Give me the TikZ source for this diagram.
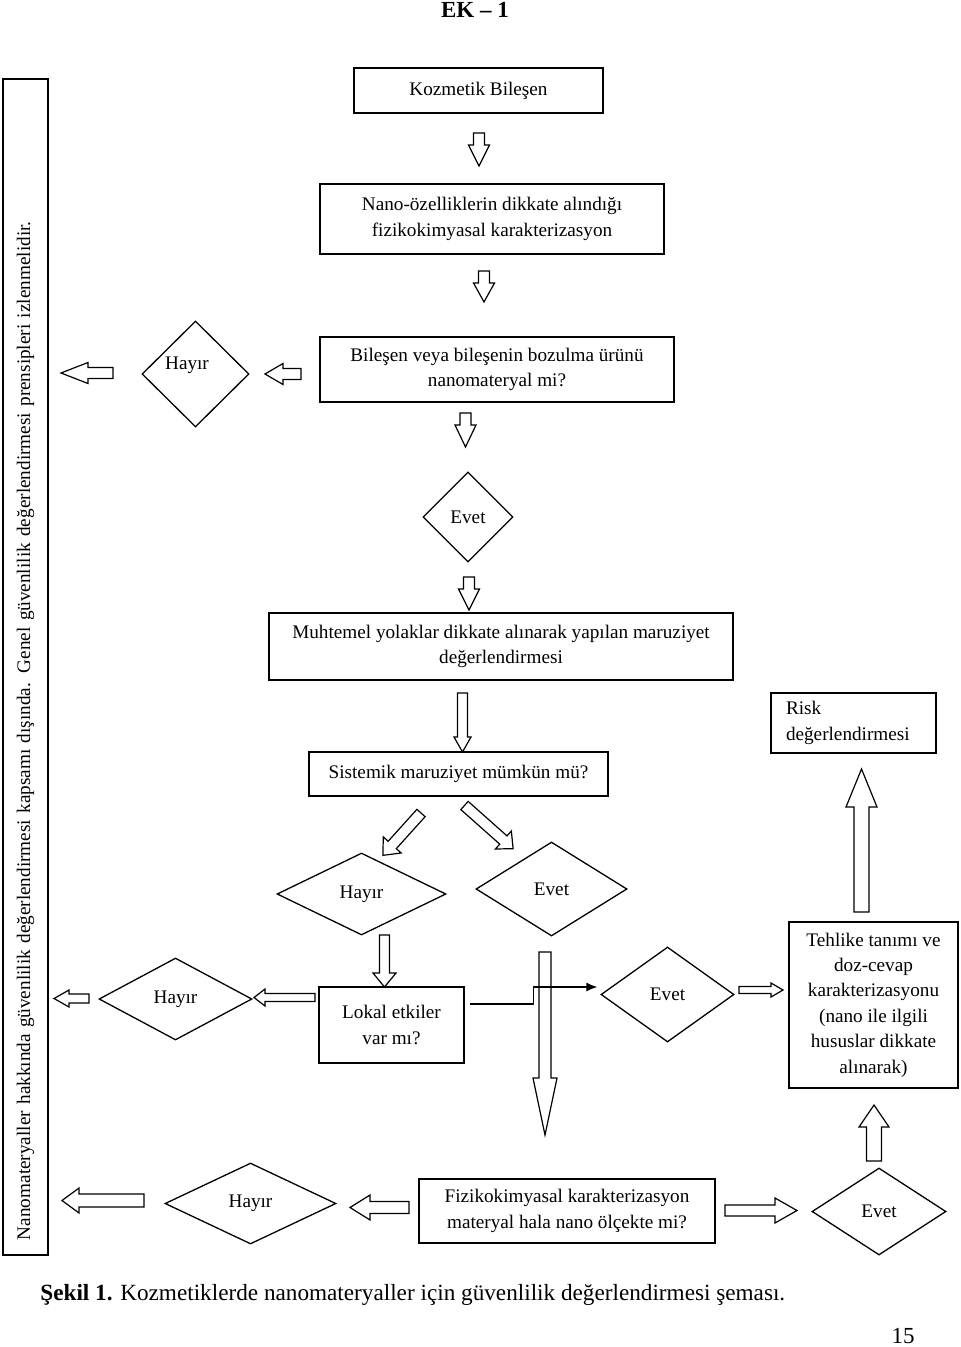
\documentclass[tikz,border=0pt]{standalone}
\usepackage{fontspec}
\setmainfont{Liberation Serif}
\usepackage{tikz}
\usetikzlibrary{arrows.meta, shapes.geometric}

\begin{document}
\begin{tikzpicture}[
		x=0.5pt, y=-0.5pt,
		txt/.style={font=\fontsize{9.6}{12.7}\selectfont},
		base/.style={
			rectangle, draw=black, line width=0.7pt,
			align=center, inner sep=0pt, txt
		},
		stepBox/.style={base},
		decision/.style={base, diamond, aspect=1, line width=0.65pt},
		arrowline/.style={draw=black, fill=white, line width=0.6pt},
		flow/.style={-{Latex[length=5.5pt, width=4.5pt]}, line width=0.6pt},
		pics/blockarrow/.style n args={4}{code={
			\draw[arrowline] (0,-#2/2) -- ({#1-#4},-#2/2) -- ({#1-#4},-#3/2) -- (#1,0)
				-- ({#1-#4},#3/2) -- ({#1-#4},#2/2) -- (0,#2/2) -- cycle;
		}}
		]
		\useasboundingbox (0,0) rectangle (960,1347);
		
		\node[anchor=base, inner sep=0pt, font=\fontsize{11.5}{14}\selectfont\bfseries] (title) at (475,18) {EK – 1};
		
		% left frame
		\node[base, rotate=90, minimum width=588pt, minimum height=22.5pt, text width=573pt, align=left] (sinir) at (25.5,667)
			{Nanomateryaller hakkında güvenlilik değerlendirmesi kapsamı dışında. Genel güvenlilik değerlendirmesi prensipleri izlenmelidir.};
		
		% main column
		\node[stepBox, minimum width=124.5pt, minimum height=22.5pt] (kozmetik) at (478.5,90.5) {Kozmetik Bileşen};
		\node[stepBox, minimum width=172pt, minimum height=35pt] (nano) at (492,219) {Nano-özelliklerin dikkate alındığı\\fizikokimyasal karakterizasyon};
		\node[stepBox, minimum width=177pt, minimum height=32.5pt] (bilesen) at (497,369.5) {Bileşen veya bileşenin bozulma ürünü\\nanomateryal mi?};
		\node[decision, minimum width=53.5pt, minimum height=53pt, label={[txt, shift={(-8.5,-9)}]center:Hayır}] (hayir1) at (195.5,374) {};
		\node[decision, minimum width=45pt, minimum height=45pt] (evet1) at (468,517) {Evet};
		\node[stepBox, minimum width=232pt, minimum height=33.5pt] (muhtemel) at (501,646.5) {Muhtemel yolaklar dikkate alınarak yapılan maruziyet\\değerlendirmesi};
		\node[stepBox, minimum width=149.5pt, minimum height=22pt] (sistemik) at (458.5,774) {Sistemik maruziyet mümkün mü?};
		\node[decision, minimum width=84.5pt, minimum height=41pt] (hayir2) at (361.5,894) {Hayır};
		\node[decision, minimum width=75.5pt, minimum height=47pt] (evet2) at (551.5,889) {Evet};
		\node[stepBox, minimum width=72.5pt, minimum height=38pt] (lokal) at (391.5,1025) {Lokal etkiler\\var mı?};
		\node[decision, minimum width=76.5pt, minimum height=41pt] (hayir3) at (175.5,999) {Hayır};
		\node[decision, minimum width=66.5pt, minimum height=47.5pt] (evet3) at (667.5,994.5) {Evet};
		\node[stepBox, minimum width=148pt, minimum height=32pt] (fiziko) at (567,1211) {Fizikokimyasal karakterizasyon\\materyal hala nano ölçekte mi?};
		\node[decision, minimum width=85.5pt, minimum height=40.5pt] (hayir4) at (250.5,1203.5) {Hayır};
		\node[decision, minimum width=67pt, minimum height=43.5pt] (evet4) at (879,1211.5) {Evet};
		
		% right column
		\node[stepBox, minimum width=82.5pt, minimum height=30pt, text width=67.5pt, align=left] (risk) at (853.5,723) {Risk\\değerlendirmesi};
		\node[stepBox, minimum width=84.5pt, minimum height=83pt] (tehlike) at (873.5,1005) {Tehlike tanımı ve\\doz-cevap\\karakterizasyonu\\(nano ile ilgili\\hususlar dikkate\\alınarak)};
		
		% block arrows
		\pic[rotate=-90] at (479,133) {blockarrow={33}{11}{21}{21}};
		\pic[rotate=-90] at (484,271) {blockarrow={31}{11}{21}{19}};
		\pic[rotate=-90] at (465.5,413) {blockarrow={34}{11}{21}{22}};
		\pic[rotate=-90] at (469,577) {blockarrow={33}{11}{21}{21}};
		\pic[rotate=-90] at (462.5,693) {blockarrow={59}{10}{17}{15}};
		\pic[rotate=180] at (301,374) {blockarrow={36}{11}{21}{18}};
		\pic[rotate=180] at (113,373) {blockarrow={52}{11}{21}{27}};
		\pic[rotate=-132] at (421,813) {blockarrow={57}{11}{24}{14}};
		\pic[rotate=-41.6] at (464.5,805.5) {blockarrow={65}{11}{24}{13}};
		\pic[rotate=-90] at (384.5,935) {blockarrow={52}{10}{23}{14}};
		\pic[rotate=180] at (315,997.5) {blockarrow={61}{8}{17}{11}};
		\pic[rotate=180] at (89,998.5) {blockarrow={35}{9}{17}{15}};
		\pic at (739,990) {blockarrow={44}{7}{14}{12}};
		\pic[rotate=90] at (861.5,912) {blockarrow={143}{15}{31}{38}};
		\pic[rotate=90] at (874,1161) {blockarrow={56}{15}{30}{22}};
		\pic at (725,1210.5) {blockarrow={72}{11}{25}{22}};
		\pic[rotate=180] at (409,1207.5) {blockarrow={59}{12}{25}{20}};
		\pic[rotate=180] at (144,1200.5) {blockarrow={82}{13}{25}{17}};
		\pic[rotate=-90] at (545,952) {blockarrow={183}{12}{24}{57}};
		
		\draw[flow] ([shift={(5,-21)}]lokal.east) -- ++(64,0) -- ++(0,-17) -- ([shift={(-3,-7.5)}]evet3.west);
		
		\node[anchor=base west, inner sep=0pt, font=\fontsize{11.6}{14}\selectfont] (caption) at (40,1300)
			{\textbf{Şekil 1.} Kozmetiklerde nanomateryaller için güvenlilik değerlendirmesi şeması.};
		\node[anchor=base east, inner sep=0pt, font=\fontsize{11.5}{14}\selectfont] (pagenum) at (915,1343) {15};
	\end{tikzpicture}
\end{document}
